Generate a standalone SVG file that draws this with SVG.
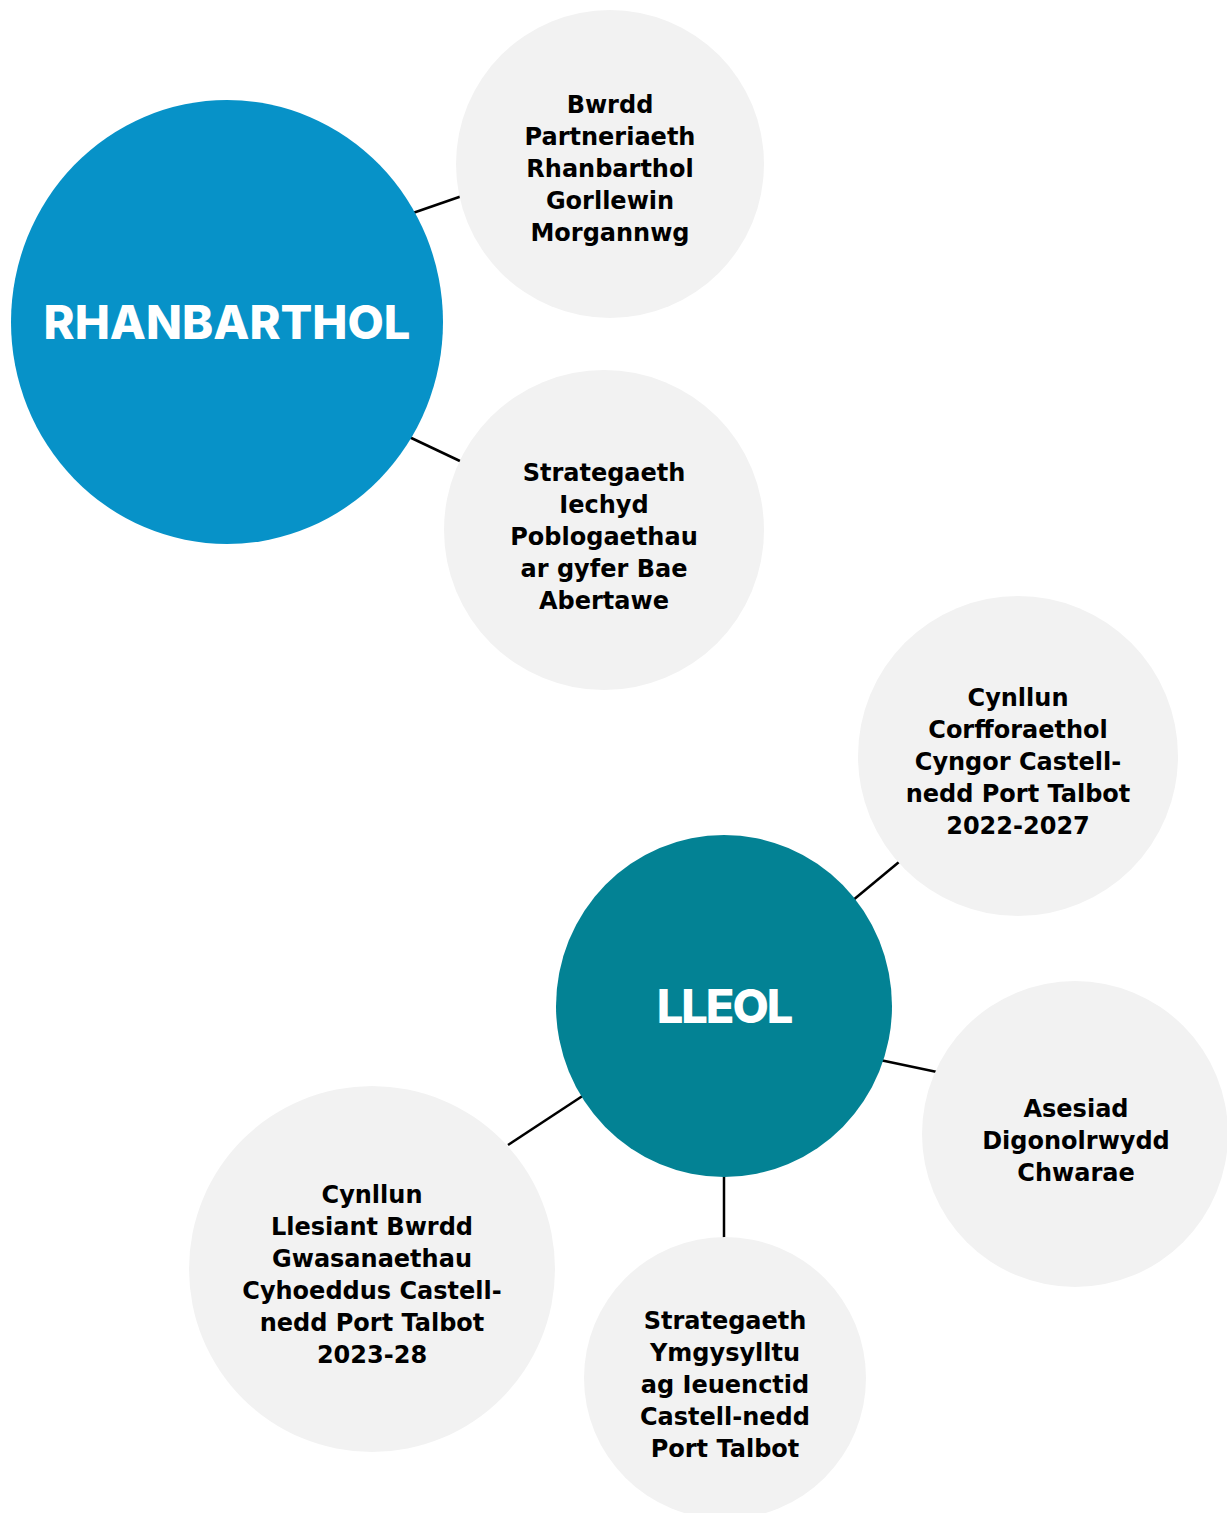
<svg xmlns="http://www.w3.org/2000/svg" width="1227" height="1513" viewBox="0 0 1227 1513">
<style>
.sat{fill:#F2F2F2}
.t{font-family:"DejaVu Sans","Noto Sans","Liberation Sans",sans-serif;font-weight:700;font-size:24px;fill:#000;text-anchor:middle}
.h{font-family:Inter,"Noto Sans","Liberation Sans",sans-serif;font-weight:800;font-size:47px;fill:#fff;text-anchor:middle}
.c{stroke:#000;stroke-width:2.5;fill:none}
</style>
<rect width="1227" height="1513" fill="#fff"/>
<g id="connectors">
<line class="c" x1="410" y1="214" x2="462" y2="196"/>
<line class="c" x1="405" y1="435" x2="462" y2="462"/>
<line class="c" x1="852" y1="901" x2="899" y2="862"/>
<line class="c" x1="880" y1="1060" x2="937" y2="1072"/>
<line class="c" x1="724" y1="1176" x2="724" y2="1239"/>
<line class="c" x1="584" y1="1095" x2="508" y2="1145"/>
</g>
<g id="rhanbarthol">
<ellipse cx="227" cy="322" rx="216" ry="222" fill="#0792C8"/>
<text class="h" x="227" y="339">RHANBARTHOL</text>
</g>
<g id="bwrdd">
<circle class="sat" cx="610" cy="164" r="154"/>
<text class="t" x="610"><tspan x="610" y="113">Bwrdd</tspan><tspan x="610" y="145">Partneriaeth</tspan><tspan x="610" y="177">Rhanbarthol</tspan><tspan x="610" y="209">Gorllewin</tspan><tspan x="610" y="241">Morgannwg</tspan></text>
</g>
<g id="strategaeth-iechyd">
<circle class="sat" cx="604" cy="530" r="160"/>
<text class="t" x="604"><tspan x="604" y="481">Strategaeth</tspan><tspan x="604" y="513">Iechyd</tspan><tspan x="604" y="545">Poblogaethau</tspan><tspan x="604" y="577">ar gyfer Bae</tspan><tspan x="604" y="609">Abertawe</tspan></text>
</g>
<g id="lleol">
<ellipse cx="724" cy="1006" rx="168" ry="171" fill="#038294"/>
<text class="h" x="724" y="1023" style="letter-spacing:-2px">LLEOL</text>
</g>
<g id="cynllun-corfforaethol">
<circle class="sat" cx="1018" cy="756" r="160"/>
<text class="t" x="1018"><tspan x="1018" y="706">Cynllun</tspan><tspan x="1018" y="738">Corfforaethol</tspan><tspan x="1018" y="770">Cyngor Castell-</tspan><tspan x="1018" y="802">nedd Port Talbot</tspan><tspan x="1018" y="834">2022-2027</tspan></text>
</g>
<g id="asesiad">
<circle class="sat" cx="1075" cy="1134" r="153"/>
<text class="t" x="1076"><tspan x="1076" y="1117">Asesiad</tspan><tspan x="1076" y="1149">Digonolrwydd</tspan><tspan x="1076" y="1181">Chwarae</tspan></text>
</g>
<g id="cynllun-llesiant">
<circle class="sat" cx="372" cy="1269" r="183"/>
<text class="t" x="372"><tspan x="372" y="1203">Cynllun</tspan><tspan x="372" y="1235">Llesiant Bwrdd</tspan><tspan x="372" y="1267">Gwasanaethau</tspan><tspan x="372" y="1299">Cyhoeddus Castell-</tspan><tspan x="372" y="1331">nedd Port Talbot</tspan><tspan x="372" y="1363">2023-28</tspan></text>
</g>
<g id="strategaeth-ymgysylltu">
<circle class="sat" cx="725" cy="1378" r="141"/>
<text class="t" x="725"><tspan x="725" y="1329">Strategaeth</tspan><tspan x="725" y="1361">Ymgysylltu</tspan><tspan x="725" y="1393">ag Ieuenctid</tspan><tspan x="725" y="1425">Castell-nedd</tspan><tspan x="725" y="1457">Port Talbot</tspan></text>
</g>
</svg>
